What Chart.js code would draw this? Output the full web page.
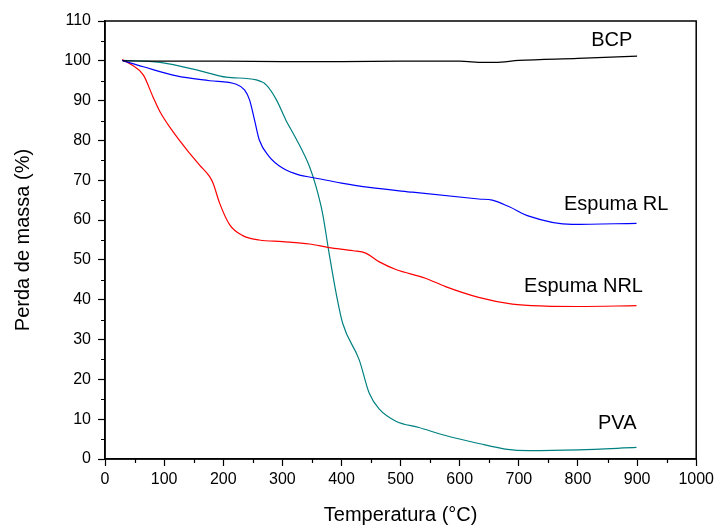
<!DOCTYPE html>
<html>
<head>
<meta charset="utf-8">
<script src="https://cdn.jsdelivr.net/npm/chart.js@4.4.1/dist/chart.umd.min.js"></script>
<style>
html,body{margin:0;padding:0;background:#fff;}
#wrap{width:718px;height:525px;position:relative;}
</style>
</head>
<body>
<div id="wrap"><canvas id="c" width="718" height="525"></canvas></div>
<script>
// ---- Data ----
const bcpT = [30, 100, 200, 300, 400, 500, 600, 640, 660, 700, 800, 900];
const bcpV = [100, 99.9, 99.9, 99.8, 99.8, 99.9, 99.9, 99.6, 99.6, 100.1, 100.6, 101.2];

const rlT = [29, 65, 121, 177, 222, 236, 244.5, 253, 261, 278, 301, 329, 351, 400, 447, 520, 632, 655, 683, 717, 790, 899];
const rlV = [100.1, 98.5, 96.2, 95, 94.1, 92.7, 90.2, 85.1, 80.1, 75.9, 73, 71.3, 70.7, 69.3, 68.2, 67, 65.3, 65, 63.4, 61, 58.9, 59.2];

const nrlT = [29, 45, 65, 81, 93, 115, 143, 160, 177, 183, 194, 211, 233, 261, 300, 346, 379, 420, 441, 464, 492, 542, 576, 632, 689, 745, 800, 899];
const nrlV = [100.3, 99, 96.4, 91, 87.2, 82.2, 76.8, 73.8, 70.9, 69.2, 64.2, 58.8, 56.1, 55, 54.6, 54, 53.1, 52.3, 51.7, 49.5, 47.6, 45.4, 43.3, 40.6, 38.9, 38.4, 38.3, 38.5];

const pvaT = [29, 93, 166, 205, 256, 273, 290, 306, 323, 346, 357, 368, 379, 391, 402, 430, 447, 464, 492, 531, 576, 632, 677, 717, 801, 899];
const pvaV = [100.1, 99.6, 97.3, 95.9, 95.2, 93.9, 90.2, 85.1, 80.5, 73.4, 68.4, 61.7, 51.7, 41.6, 34.1, 24.9, 16.5, 12.5, 9.5, 7.9, 5.9, 3.9, 2.5, 2.1, 2.3, 2.9];

const seriesNames = ['BCP', 'Espuma RL', 'Espuma NRL', 'PVA'];
const xTitle = 'Temperatura (°C)';
const yTitle = 'Perda de massa (%)';

// curve labels: [text, right-edge x (°C), y (%)]
const curveLabels = [
  ['BCP', 892, 105],
  ['Espuma RL', 953, 63.8],
  ['Espuma NRL', 910, 43.3],
  ['PVA', 899, 9]
];

const pts = (t, v) => t.map((x, i) => ({x: x, y: v[i]}));
const FONT = "Arial, 'Liberation Sans', sans-serif";

const framePlugin = {
  id: 'frame',
  afterDraw(chart) {
    const {ctx, chartArea: a, scales} = chart;
    ctx.save();
    ctx.strokeStyle = '#000';
    ctx.lineWidth = 1.5;
    ctx.strokeRect(a.left, a.top, a.right - a.left, a.bottom - a.top);
    // minor ticks
    ctx.lineWidth = 1.2;
    ctx.beginPath();
    for (let v = 50; v < 1000; v += 100) {
      const px = Math.round(scales.x.getPixelForValue(v)) + 0.5;
      ctx.moveTo(px, a.bottom); ctx.lineTo(px, a.bottom + 4);
    }
    for (let v = 5; v < 110; v += 10) {
      const py = Math.round(scales.y.getPixelForValue(v)) + 0.5;
      ctx.moveTo(a.left, py); ctx.lineTo(a.left - 4, py);
    }
    ctx.stroke();
    // curve labels
    ctx.fillStyle = '#000';
    ctx.font = '20px ' + FONT;
    ctx.textAlign = 'right';
    ctx.textBaseline = 'middle';
    curveLabels.forEach(([txt, x, y]) => {
      ctx.fillText(txt, scales.x.getPixelForValue(x), scales.y.getPixelForValue(y));
    });
    ctx.restore();
  }
};

const mk = (label, data, color) => ({
  label, data, borderColor: color, backgroundColor: color,
  borderWidth: 1.2, pointRadius: 0, tension: 0.4, cubicInterpolationMode: 'monotone', fill: false
});

new Chart(document.getElementById('c'), {
  type: 'line',
  data: {
    datasets: [
      mk(seriesNames[0], pts(bcpT, bcpV), '#000000'),
      mk(seriesNames[1], pts(rlT, rlV), '#0000ff'),
      mk(seriesNames[2], pts(nrlT, nrlV), '#ff0000'),
      mk(seriesNames[3], pts(pvaT, pvaV), '#008080')
    ]
  },
  options: {
    responsive: false,
    animation: false,
    layout: {padding: {left: 0, right: 20, top: 21, bottom: 0}},
    plugins: {legend: {display: false}, tooltip: {enabled: false}},
    scales: {
      x: {
        type: 'linear', min: 0, max: 1000,
        afterFit: s => { s.height = 66; },
        ticks: {stepSize: 100, color: '#000', font: {family: FONT, size: 16}, padding: 4, maxRotation: 0, callback: v => String(v)},
        grid: {display: true, drawOnChartArea: false, drawTicks: true, tickLength: 7, tickColor: '#000', tickWidth: 1.2},
        border: {display: true, color: '#000', width: 1.5},
        title: {display: true, text: xTitle, color: '#000', font: {family: FONT, size: 20, lineHeight: 1.0}, padding: {top: 0, bottom: 0}}
      },
      y: {
        type: 'linear', min: 0, max: 110,
        afterFit: s => { s.width = 105; },
        ticks: {stepSize: 10, color: '#000', font: {family: FONT, size: 16}, padding: 7, callback: v => String(v)},
        grid: {display: true, drawOnChartArea: false, drawTicks: true, tickLength: 7, tickColor: '#000', tickWidth: 1.2},
        border: {display: true, color: '#000', width: 1.5},
        title: {display: true, text: yTitle, color: '#000', font: {family: FONT, size: 20, lineHeight: 1.2}, padding: {top: 11, bottom: 0}}
      }
    }
  },
  plugins: [framePlugin]
});
</script>
</body>
</html>
